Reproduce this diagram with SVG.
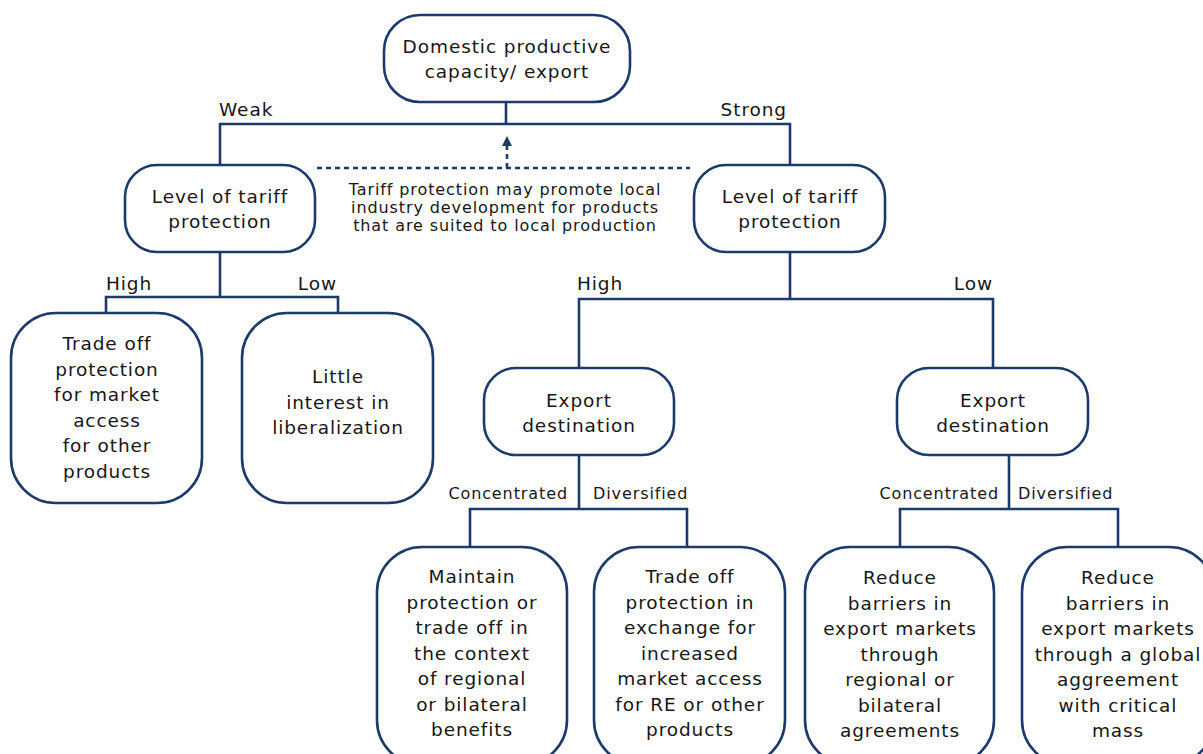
<svg xmlns="http://www.w3.org/2000/svg" width="1203" height="754" viewBox="0 0 1203 754">
<style>
.box{fill:#fff;stroke:#1c3a6c;stroke-width:2.6}
.ln{fill:none;stroke:#1c3a6c;stroke-width:2.6}
.dash{fill:none;stroke:#1c3a6c;stroke-width:2.6;stroke-dasharray:5 4}
text{font-family:"DejaVu Sans","Liberation Sans",sans-serif;fill:#161616}
.t{font-size:18.5px;letter-spacing:0.9px;text-anchor:middle}
.lb{font-size:18.5px;letter-spacing:0.9px}
.sm{font-size:16px;letter-spacing:0.9px}
.note{font-size:16px;letter-spacing:0.9px;text-anchor:middle}
</style>
<rect width="1203" height="754" fill="#fff"/>
<g id="connectors">
<path class="ln" d="M506 102V124M220 165V124H790V165"/>
<path class="ln" d="M220 252V297M106 313V297H338V313"/>
<path class="ln" d="M790 252V299M579 368V299H993V368"/>
<path class="ln" d="M579 455V509M470 547V509H687V547"/>
<path class="ln" d="M1009 455V509M900 547V509H1118V547"/>
<path class="dash" d="M317 168H690M507 168V146"/>
<polygon points="507,136 512,146 502,146" fill="#1c3a6c"/>
<text class="lb" x="219" y="116">Weak</text>
<text class="lb" x="787" y="116" text-anchor="end">Strong</text>
<text class="lb" x="106" y="290">High</text>
<text class="lb" x="337" y="290" text-anchor="end">Low</text>
<text class="lb" x="577" y="290">High</text>
<text class="lb" x="993" y="290" text-anchor="end">Low</text>
<text class="sm" x="568" y="499" text-anchor="end">Concentrated</text>
<text class="sm" x="593" y="499">Diversified</text>
<text class="sm" x="999" y="499" text-anchor="end">Concentrated</text>
<text class="sm" x="1018" y="499">Diversified</text>
</g>
<g id="note">
<text class="note" x="505" y="195">Tariff protection may promote local</text>
<text class="note" x="505" y="213">industry development for products</text>
<text class="note" x="505" y="231">that are suited to local production</text>
</g>
<g id="root">
<rect class="box" x="384" y="15" width="246" height="87" rx="36"/>
<text class="t" x="507" y="53">Domestic productive</text>
<text class="t" x="507" y="78">capacity/ export</text>
</g>
<g id="level-weak">
<rect class="box" x="125" y="165" width="190" height="87" rx="32"/>
<text class="t" x="220" y="203">Level of tariff</text>
<text class="t" x="220" y="228">protection</text>
</g>
<g id="level-strong">
<rect class="box" x="694" y="165" width="191" height="87" rx="32"/>
<text class="t" x="790" y="203">Level of tariff</text>
<text class="t" x="790" y="228">protection</text>
</g>
<g id="weak-high">
<rect class="box" x="11" y="313" width="191" height="190" rx="45"/>
<text class="t" x="107" y="350">Trade off</text>
<text class="t" x="107" y="375.5">protection</text>
<text class="t" x="107" y="401">for market</text>
<text class="t" x="107" y="426.5">access</text>
<text class="t" x="107" y="452">for other</text>
<text class="t" x="107" y="477.5">products</text>
</g>
<g id="weak-low">
<rect class="box" x="242" y="313" width="191" height="190" rx="45"/>
<text class="t" x="338" y="383">Little</text>
<text class="t" x="338" y="408.5">interest in</text>
<text class="t" x="338" y="434">liberalization</text>
</g>
<g id="export-high">
<rect class="box" x="484" y="368" width="190" height="87" rx="32"/>
<text class="t" x="579" y="407">Export</text>
<text class="t" x="579" y="432">destination</text>
</g>
<g id="export-low">
<rect class="box" x="897" y="368" width="191" height="87" rx="32"/>
<text class="t" x="993" y="407">Export</text>
<text class="t" x="993" y="432">destination</text>
</g>
<g id="high-concentrated">
<rect class="box" x="377" y="547" width="190" height="218" rx="45"/>
<text class="t" x="472" y="583">Maintain</text>
<text class="t" x="472" y="608.5">protection or</text>
<text class="t" x="472" y="634">trade off in</text>
<text class="t" x="472" y="659.5">the context</text>
<text class="t" x="472" y="685">of regional</text>
<text class="t" x="472" y="710.5">or bilateral</text>
<text class="t" x="472" y="736">benefits</text>
</g>
<g id="high-diversified">
<rect class="box" x="594" y="547" width="191" height="218" rx="45"/>
<text class="t" x="690" y="583">Trade off</text>
<text class="t" x="690" y="608.5">protection in</text>
<text class="t" x="690" y="634">exchange for</text>
<text class="t" x="690" y="659.5">increased</text>
<text class="t" x="690" y="685">market access</text>
<text class="t" x="690" y="710.5">for RE or other</text>
<text class="t" x="690" y="736">products</text>
</g>
<g id="low-concentrated">
<rect class="box" x="805" y="547" width="189" height="218" rx="45"/>
<text class="t" x="900" y="584">Reduce</text>
<text class="t" x="900" y="609.5">barriers in</text>
<text class="t" x="900" y="635">export markets</text>
<text class="t" x="900" y="660.5">through</text>
<text class="t" x="900" y="686">regional or</text>
<text class="t" x="900" y="711.5">bilateral</text>
<text class="t" x="900" y="737">agreements</text>
</g>
<g id="low-diversified">
<rect class="box" x="1022" y="547" width="192" height="218" rx="45"/>
<text class="t" x="1118" y="584">Reduce</text>
<text class="t" x="1118" y="609.5">barriers in</text>
<text class="t" x="1118" y="635">export markets</text>
<text class="t" x="1118" y="660.5">through a global</text>
<text class="t" x="1118" y="686">aggreement</text>
<text class="t" x="1118" y="711.5">with critical</text>
<text class="t" x="1118" y="737">mass</text>
</g>
</svg>
